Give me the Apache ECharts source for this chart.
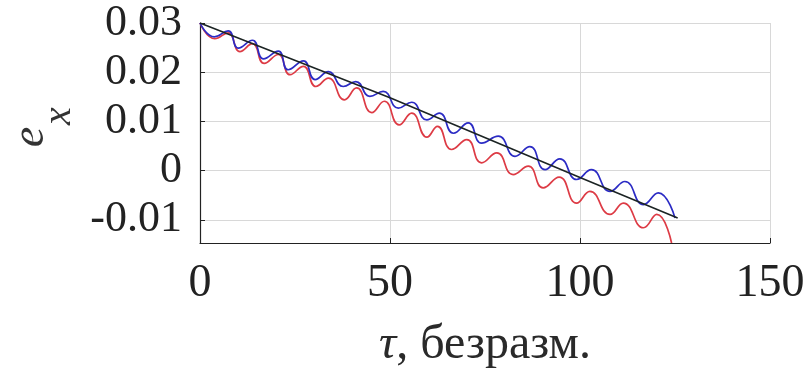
<!DOCTYPE html>
<html>
<head>
<meta charset="utf-8">
<script src="https://cdn.jsdelivr.net/npm/echarts@6/dist/echarts.min.js"></script>
<style>
  html, body { margin: 0; padding: 0; background: #fff; }
  #chart { width: 811px; height: 379px; }
</style>
</head>
<body>
<div id="chart"></div>
<script>
// x-axis ticks and y-axis tick labels
const xTicks = [0, 50, 100, 150];
const yTicks = [-0.01, 0, 0.01, 0.02, 0.03];

// black straight line (tau, e_x)
const blackTau = [0, 50, 100, 125.7];
const blackVal = [0.0300, 0.0148, -0.0014, -0.0096];

// blue oscillating curve (tau, e_x) read at extrema
const blueTau = [0, 3.8, 7.4, 10.1, 13.8, 16.7, 20.6, 23.2, 27.2, 30.3, 33.8, 37.7, 41.0, 44.7, 48.2, 52.2, 55.7, 59.7, 63.0, 66.7, 70.6, 74.1, 78.5, 82.9, 86.8, 90.8, 94.7, 99.1, 103.0, 107.9, 111.8, 116.7, 120.6, 125.0];
const blueVal = [0.0300, 0.0272, 0.0284, 0.0249, 0.0265, 0.0227, 0.0243, 0.0205, 0.0223, 0.0185, 0.0201, 0.0171, 0.0181, 0.0151, 0.0161, 0.0127, 0.0139, 0.0103, 0.0117, 0.0076, 0.0097, 0.0056, 0.0070, 0.0029, 0.0049, 0.0002, 0.0024, -0.0018, 0.0002, -0.0042, -0.0022, -0.0069, -0.0045, -0.0096];

// red oscillating curve (tau, e_x) read at extrema
const redTau = [0, 3.9, 7.4, 10.5, 13.8, 16.9, 20.6, 23.7, 27.2, 30.5, 33.8, 38.0, 41.2, 45.2, 48.5, 52.4, 55.7, 59.7, 62.5, 66.2, 70.2, 74.1, 78.1, 82.4, 86.4, 90.3, 94.5, 99.1, 102.6, 107.9, 111.4, 116.7, 120.2, 124.1];
const redVal = [0.0300, 0.0268, 0.0280, 0.0242, 0.0258, 0.0218, 0.0236, 0.0195, 0.0212, 0.0171, 0.0188, 0.0144, 0.0168, 0.0118, 0.0141, 0.0093, 0.0117, 0.0068, 0.0090, 0.0043, 0.0063, 0.0016, 0.0036, -0.0008, 0.0009, -0.0035, -0.0013, -0.0066, -0.0042, -0.0089, -0.0066, -0.0116, -0.0089, -0.0147];

const zip = (a, b) => a.map((t, i) => [t, b[i]]);

const FONT = '"Liberation Serif", "Times New Roman", serif';

const chart = echarts.init(document.getElementById('chart'), null, { renderer: 'canvas' });
chart.setOption({
  animation: false,
  backgroundColor: '#ffffff',
  grid: { left: 200, right: 41, top: 23, bottom: 136, containLabel: false },
  xAxis: {
    type: 'value',
    min: xTicks[0],
    max: xTicks[xTicks.length - 1],
    interval: 50,
    name: '{t|τ}, безразм.',
    nameLocation: 'middle',
    nameGap: 78,
    nameTextStyle: {
      fontFamily: FONT, fontSize: 48, color: '#2a2a2a',
      rich: { t: { fontFamily: FONT, fontSize: 48, fontStyle: 'italic', color: '#2a2a2a' } }
    },
    axisLine: { show: true, onZero: false, lineStyle: { color: '#222', width: 1.2 } },
    axisTick: { show: true, inside: true, length: 5, lineStyle: { color: '#222' } },
    axisLabel: { fontFamily: FONT, fontSize: 46, color: '#222', margin: 18 },
    splitLine: { show: true, lineStyle: { color: '#d8d8d8', width: 1 } }
  },
  yAxis: {
    type: 'value',
    min: -0.0147,
    max: yTicks[yTicks.length - 1],
    axisLine: { show: true, onZero: false, lineStyle: { color: '#222', width: 1.2 } },
    axisTick: { show: true, inside: true, length: 5, lineStyle: { color: '#222' } },
    axisLabel: {
      fontFamily: FONT, fontSize: 44, color: '#222', margin: 18,
      showMinLabel: false,
      formatter: v => (yTicks.some(t => Math.abs(t - v) < 1e-9) ? String(Math.round(v * 100) / 100) : '')
    },
    splitLine: { show: true, lineStyle: { color: '#d8d8d8', width: 1 } }
  },
  graphic: [
    { type: 'text', x: 31, y: 137, rotation: Math.PI / 2,
      style: { text: 'e', font: 'italic 46px ' + FONT, fill: '#333', align: 'center', verticalAlign: 'middle' } },
    { type: 'text', x: 59, y: 116, rotation: Math.PI / 2,
      style: { text: 'x', font: 'italic 40px ' + FONT, fill: '#333', align: 'center', verticalAlign: 'middle' } }
  ],
  series: [
    { type: 'line', data: zip(redTau, redVal), smooth: 0.5, symbol: 'none',
      lineStyle: { color: '#dd3b45', width: 1.7 }, clip: true, z: 2 },
    { type: 'line', data: zip(blueTau, blueVal), smooth: 0.5, symbol: 'none',
      lineStyle: { color: '#2b2bc4', width: 1.7 }, clip: true, z: 3 },
    { type: 'line', data: zip(blackTau, blackVal), smooth: false, symbol: 'none',
      lineStyle: { color: '#1c2424', width: 1.6 }, clip: true, z: 4 }
  ]
});
</script>
</body>
</html>
